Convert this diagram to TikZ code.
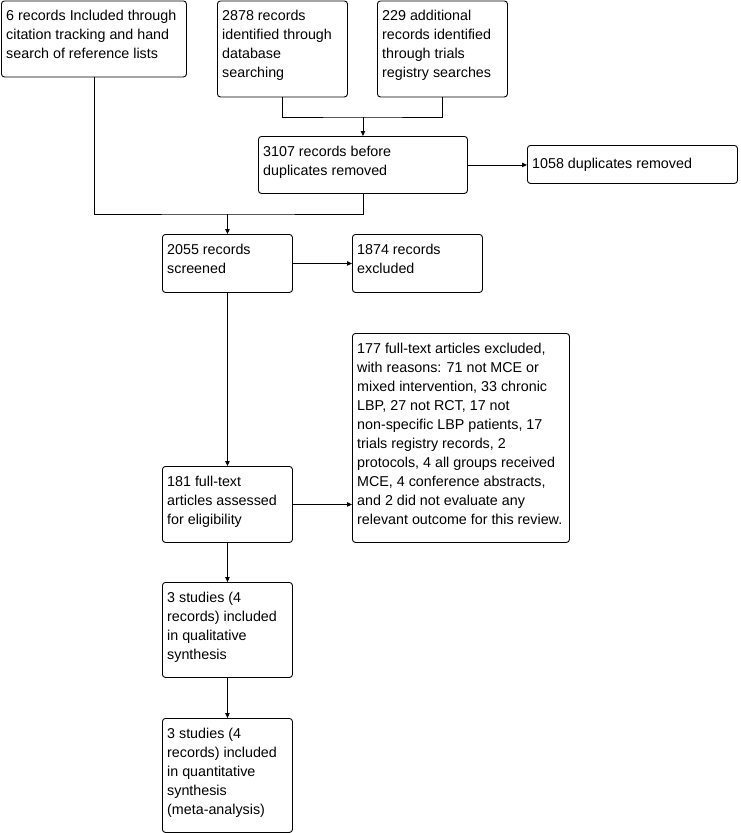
\documentclass[tikz,border=0pt]{standalone}
\usepackage{fontspec}
\setmainfont{Liberation Sans}
\usetikzlibrary{arrows.meta,calc}
\begin{document}
\begin{tikzpicture}[x=1pt,y=-1pt,
  box/.style={draw=black, line width=0.9pt, rounded corners=3pt, anchor=north west, inner sep=0pt},
  txt/.style={anchor=north west, inner sep=0pt, align=left, font=\fontsize{14.3}{19}\selectfont, execute at begin node=\strut},
  conn/.style={draw=black, line width=0.9pt},
  arr/.style={conn, -{Triangle[length=5pt,width=4.5pt]}}]
\useasboundingbox (0,0) rectangle (740,833);
\fill[white] (0,0) rectangle (740,833);
% boxes
\node[box, minimum width=185pt, minimum height=76pt] (a) at (1,0.5) {};
\node[box, minimum width=130pt, minimum height=96pt] (b) at (217,0.5) {};
\node[box, minimum width=130pt, minimum height=96pt] (c) at (377,0.5) {};
\node[box, minimum width=209pt, minimum height=57pt] (d) at (258,136) {};
\node[box, minimum width=210pt, minimum height=38pt] (e) at (527,145) {};
\node[box, minimum width=130pt, minimum height=58pt] (f) at (162,234) {};
\node[box, minimum width=130pt, minimum height=58pt] (g) at (352,234) {};
\node[box, minimum width=217pt, minimum height=209pt] (h) at (352,333) {};
\node[box, minimum width=130pt, minimum height=76pt] (i) at (162,466) {};
\node[box, minimum width=130pt, minimum height=95pt] (j) at (162,582) {};
\node[box, minimum width=130pt, minimum height=114pt] (k) at (162,718) {};
% texts
\node[txt] (ta) at ($(a.north west)+(5,9.5)$) {6 records Included through\\citation tracking and hand\\search of reference lists};
\node[txt] (tb) at ($(b.north west)+(5,9.5)$) {2878 records\\identified through\\database\\searching};
\node[txt] (tc) at ($(c.north west)+(5,9.5)$) {229 additional\\records identified\\through trials\\registry searches};
\node[txt] (td) at ($(d.north west)+(5,9.5)$) {3107 records before\\duplicates removed};
\node[txt] (te) at ($(e.north west)+(5,9.5)$) {1058 duplicates removed};
\node[txt] (tf) at ($(f.north west)+(5,9.5)$) {2055 records\\screened};
\node[txt] (tg) at ($(g.north west)+(5,9.5)$) {1874 records\\excluded};
\node[txt] (th) at ($(h.north west)+(5,9.5)$) {177 full-text articles excluded,\\with reasons: 71 not MCE or\\mixed intervention, 33 chronic\\LBP, 27 not RCT, 17 not\\non-specific LBP patients, 17\\trials registry records, 2\\protocols, 4 all groups received\\MCE, 4 conference abstracts,\\and 2 did not evaluate any\\relevant outcome for this review.};
\node[txt] (ti) at ($(i.north west)+(5,9.5)$) {181 full-text\\articles assessed\\for eligibility};
\node[txt] (tj) at ($(j.north west)+(5,9.5)$) {3 studies (4\\records) included\\in qualitative\\synthesis};
\node[txt] (tk) at ($(k.north west)+(5,9.5)$) {3 studies (4\\records) included\\in quantitative\\synthesis\\(meta-analysis)};
% connectors
\coordinate (m1) at (d.north |- 0,117);
\coordinate (m2) at (f.north |- 0,214);
\draw[conn] (b.south) |- (m1) -| (c.south);
\draw[arr] (m1) -- (d.north);
\draw[conn] (a.south) |- (m2) -| (d.south);
\draw[arr] (m2) -- (f.north);
\draw[arr] (d.east) -- (e.west |- d.east);
\draw[arr] (f.east) -- (g.west);
\draw[arr] (f.south) -- (i.north);
\draw[arr] (i.east) -- (h.west |- i.east);
\draw[arr] (i.south) -- (j.north);
\draw[arr] (j.south) -- (k.north);
\end{tikzpicture}
\end{document}
